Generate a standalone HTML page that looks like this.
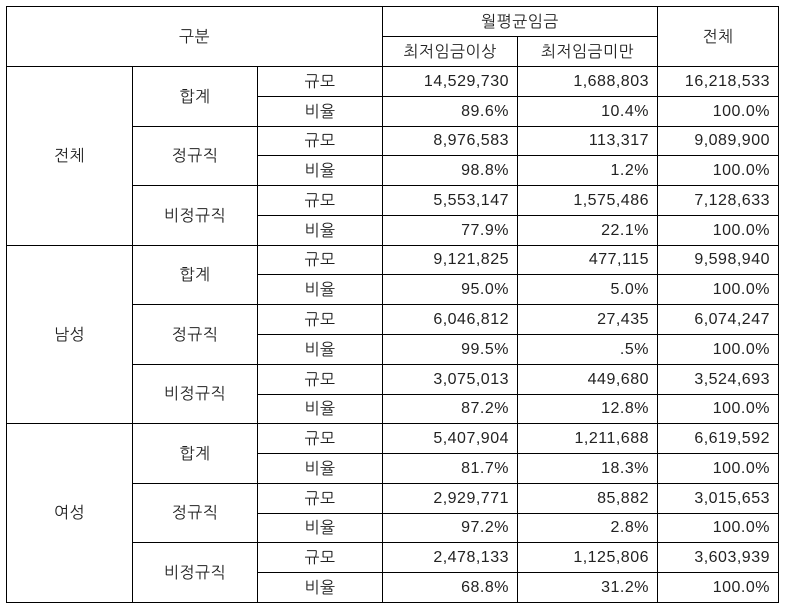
<!DOCTYPE html>
<html><head><meta charset="utf-8">
<style>
body{margin:0;background:#fff;width:788px;height:611px;position:relative;overflow:hidden;
font-family:"Liberation Sans","NanumGothic","Noto Sans CJK KR",sans-serif;color:#222;font-size:16px;}
.c{position:absolute;box-sizing:border-box;border:1px solid #000;display:flex;align-items:center;justify-content:center;letter-spacing:0.5px}
.r{justify-content:flex-end;padding-right:8px}
</style></head><body>
<div id="t"></div>
<script>
const xs=[6,132,257,382,517,657,778];
const y0=66, rh=(602-66)/18;
const groups=["전체","남성","여성"];
const subs=["합계","정규직","비정규직"];
const above=["14,529,730","89.6%","8,976,583","98.8%","5,553,147","77.9%","9,121,825","95.0%","6,046,812","99.5%","3,075,013","87.2%","5,407,904","81.7%","2,929,771","97.2%","2,478,133","68.8%"];
const below=["1,688,803","10.4%","113,317","1.2%","1,575,486","22.1%","477,115","5.0%","27,435",".5%","449,680","12.8%","1,211,688","18.3%","85,882","2.8%","1,125,806","31.2%"];
const total=["16,218,533","100.0%","9,089,900","100.0%","7,128,633","100.0%","9,598,940","100.0%","6,074,247","100.0%","3,524,693","100.0%","6,619,592","100.0%","3,015,653","100.0%","3,603,939","100.0%"];
const t=document.getElementById('t');
function cell(x1,y1,x2,y2,txt,name,right){
  x1=Math.round(x1);x2=Math.round(x2);y1=Math.round(y1);y2=Math.round(y2);
  const d=document.createElement('div');
  d.className='c'+(right?' r':'');
  d.style.left=x1+'px';d.style.top=y1+'px';d.style.width=(x2-x1+1)+'px';d.style.height=(y2-y1+1)+'px';
  d.textContent=txt;
  
  
  t.appendChild(d);
}
cell(xs[0],6,xs[3],66,"구분","header-category");
cell(xs[3],6,xs[5],36,"월평균임금","header-monthly-wage");
cell(xs[3],36,xs[4],66,"최저임금이상","header-above-min");
cell(xs[4],36,xs[5],66,"최저임금미만","header-below-min");
cell(xs[5],6,xs[6],66,"전체","header-total");
for(let g=0;g<3;g++){
  cell(xs[0],y0+g*6*rh,xs[1],y0+(g+1)*6*rh,groups[g],"group-label");
  for(let s=0;s<3;s++){
    const r0=g*6+s*2;
    cell(xs[1],y0+r0*rh,xs[2],y0+(r0+2)*rh,subs[s],"subgroup-label");
    for(let k=0;k<2;k++){
      const r=r0+k, ya=y0+r*rh, yb=y0+(r+1)*rh, i=g*6+s*2+k;
      cell(xs[2],ya,xs[3],yb,k?"비율":"규모","measure-label");
      cell(xs[3],ya,xs[4],yb,above[i],"above-min-value",true);
      cell(xs[4],ya,xs[5],yb,below[i],"below-min-value",true);
      cell(xs[5],ya,xs[6],yb,total[i],"total-value",true);
    }
  }
}
</script>
</body></html>
